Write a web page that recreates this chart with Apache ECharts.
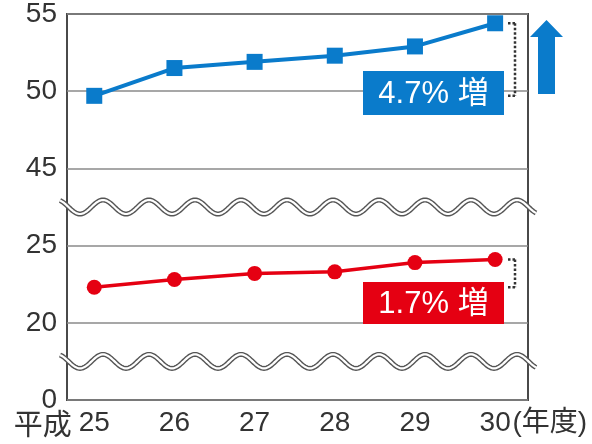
<!DOCTYPE html>
<html>
<head>
<meta charset="utf-8">
<script src="https://cdn.jsdelivr.net/npm/echarts@6/dist/echarts.min.js"></script>
<style>
html,body{margin:0;padding:0;background:#fff;}
#chart{width:592px;height:444px;}
</style>
</head>
<body>
<div id="chart"></div>
<script>
// ---- data ----
const years = [25, 26, 27, 28, 29, 30];
const blueValues = [49.7, 51.5, 51.9, 52.3, 52.9, 54.4];
const redValues = [22.3, 22.8, 23.2, 23.3, 23.9, 24.1];
const yTickLabels = [0, 20, 25, 45, 50, 55];
const blueNote = '4.7% 増';
const redNote = '1.7% 増';

const BLUE = '#0a7bcb';
const RED = '#e50012';
const FONT = '"Liberation Sans", Arial, "Noto Sans CJK JP", sans-serif';
const CJK = '"Noto Sans CJK JP", sans-serif';

// broken axis: map real value onto evenly spaced tick segments
function toAxis(v) {
  for (let i = 0; i < yTickLabels.length - 1; i++) {
    const a = yTickLabels[i], b = yTickLabels[i + 1];
    if (v >= a && v <= b) return i + (v - a) / (b - a);
  }
  return yTickLabels.length - 1;
}

const chart = echarts.init(document.getElementById('chart'), null, {renderer: 'canvas'});

chart.setOption({
  animation: false,
  backgroundColor: '#fff',
  grid: {left: 67, right: 64, top: 10, bottom: 44, show: true, borderColor: '#4a4a4a', borderWidth: 2, backgroundColor: 'transparent'},
  xAxis: {
    type: 'value', min: 24.66, max: 30.41,
    axisLine: {show: false}, axisTick: {show: false}, splitLine: {show: false},
    axisLabel: {
      customValues: years,
      margin: 9, color: '#333', fontSize: 28, fontFamily: FONT,
      formatter: function (v) {
        if (v === years[0]) return '{a|平成}{b|' + v + '}{c|}';
        if (v === years[years.length - 1]) return '{c2|}{b|' + v + '}{d|(年度)}';
        return '{b|' + v + '}';
      },
      rich: {
        a: {fontSize: 29, fontFamily: CJK, color: '#333', width: 72},
        b: {fontSize: 28, fontFamily: FONT, color: '#333'},
        c: {width: 72},
        c2: {width: 78},
        d: {fontSize: 28, fontFamily: FONT, color: '#333', width: 78}
      }
    }
  },
  yAxis: {
    type: 'value', min: 0, max: yTickLabels.length - 1, interval: 1,
    axisLine: {show: false}, axisTick: {show: false},
    splitLine: {show: true, lineStyle: {color: '#8a8a8a', width: 1.5}},
    axisLabel: {
      margin: 10, color: '#333', fontSize: 28, fontFamily: FONT,
      formatter: function (v) { return String(yTickLabels[v]); }
    }
  },
  series: [
    {
      type: 'line', data: years.map((y, i) => [y, toAxis(blueValues[i])]),
      symbol: 'rect', symbolSize: 16, itemStyle: {color: BLUE},
      lineStyle: {color: BLUE, width: 4}, z: 5
    },
    {
      type: 'line', data: years.map((y, i) => [y, toAxis(redValues[i])]),
      symbol: 'circle', symbolSize: 15, itemStyle: {color: RED},
      lineStyle: {color: RED, width: 3.5}, z: 5
    }
  ]
});

function px(x, v) { return chart.convertToPixel({gridIndex: 0}, [x, toAxis(v)]); }
function pxAxis(x, a) { return chart.convertToPixel({gridIndex: 0}, [x, a]); }

const g = [];

// wavy break marks
function wave(axisPos) {
  const yc = pxAxis(25, axisPos)[1];
  const pts = [];
  for (let x = 60; x <= 536; x += 1) {
    pts.push([x, yc - 7 * Math.cos(2 * Math.PI * (x - 103) / 46)]);
  }
  g.push({type: 'polyline', shape: {points: pts}, style: {stroke: '#555', lineWidth: 5, fill: null}, z: 20});
  g.push({type: 'polyline', shape: {points: pts}, style: {stroke: '#fff', lineWidth: 2.2, fill: null}, z: 21});
}
wave(2.5);
wave(0.5);

// dotted bracket from first to last value
function bracket(values) {
  const top = px(30, values[values.length - 1])[1];
  const bot = px(30, values[0])[1];
  const bx = 515;
  const dot = {stroke: '#333', lineWidth: 2.5, lineDash: [2.5, 2]};
  g.push({type: 'line', shape: {x1: bx, y1: top, x2: bx, y2: bot}, style: dot, z: 10});
  g.push({type: 'line', shape: {x1: 508, y1: top, x2: bx, y2: top}, style: dot, z: 10});
  g.push({type: 'line', shape: {x1: 508, y1: bot, x2: bx, y2: bot}, style: dot, z: 10});
}
bracket(blueValues);
bracket(redValues);

function box(y, h, color, text) {
  g.push({type: 'rect', shape: {x: 363, y: y, width: 141, height: h}, style: {fill: color}, z: 12});
  g.push({type: 'text', x: 433.5, y: y + h / 2 + 1, style: {text: text, fill: '#fff', font: '31px ' + FONT, align: 'center', verticalAlign: 'middle'}, z: 13});
}
box(71, 44, BLUE, blueNote);
box(282, 42, RED, redNote);

// up arrow
g.push({type: 'polygon', shape: {points: [[546.5, 20], [563, 37], [555, 37], [555, 94], [538, 94], [538, 37], [530, 37]]}, style: {fill: BLUE}, z: 10});

chart.setOption({graphic: g});
</script>
</body>
</html>
